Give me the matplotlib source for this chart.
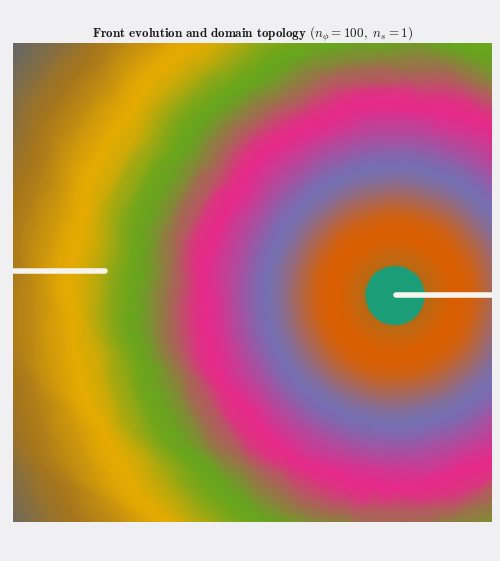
import numpy as np
import matplotlib
matplotlib.use("Agg")
import matplotlib.pyplot as plt
import matplotlib.colors as mcolors
import matplotlib.tri as mtri

plt.rcParams["mathtext.fontset"] = "cm"
plt.rcParams["font.family"] = "serif"

# ─── Domain colours, one per topological level ───────────────────────────────
LEVEL_COLORS = ["#1b9e77", "#d95f02", "#7570b3", "#e7298a",
                "#66a61e", "#e6ab02", "#a6761d", "#666666"]
BG_COLOR = "#f0f0f2"
CRACK_COLOR = "#f5f4ef"

# ─── Level, ring by ring around the right crack tip ──────────────────────────
RING_RADIUS = [0.00, 0.06, 0.12, 0.128, 0.16, 0.20, 0.24, 0.28, 0.33, 0.38,
               0.43, 0.48, 0.535, 0.59, 0.64, 0.69, 0.74, 0.795, 0.85, 0.90,
               0.95, 1.00, 1.05, 1.08, 1.13, 1.18, 1.23, 1.28, 1.35, 1.40,
               1.46, 1.52, 1.57, 1.63, 1.69, 1.75, 1.81, 1.87, 1.93, 2.00]
RING_LEVEL = [1.00, 1.00, 1.00, 1.84, 1.88, 1.95, 2.00, 2.00, 2.10, 2.35,
              2.60, 2.85, 3.00, 3.15, 3.40, 3.60, 3.82, 4.00, 4.10, 4.35,
              4.55, 4.75, 4.93, 5.00, 5.10, 5.30, 5.55, 5.80, 6.00, 6.10,
              6.35, 6.60, 6.80, 7.00, 7.20, 7.45, 7.70, 7.90, 8.00, 8.00]

# Crack centre lines (x, y)
LEFT_CRACK_X = [-1.0, -0.615]
LEFT_CRACK_Y = [0.05, 0.05]
RIGHT_CRACK_X = [0.60, 1.0]
RIGHT_CRACK_Y = [-0.054, -0.054]
TIP = (0.595, -0.054)

TITLE = (r"$\mathbf{Front\ evolution\ and\ domain\ topology}$"
         r" $(n_\phi = 100,\ n_s = 1)$")

# radial wobble of mesh nodes, gives the unstructured facet look
WOBBLE = [0.6, -0.9, 0.2, 1.0, -0.4, -1.0, 0.8, -0.1, 0.5, -0.7, 1.0]


def ring_mesh():
    xs, ys, zs = [], [], []
    for i, (r, lev) in enumerate(zip(RING_RADIUS, RING_LEVEL)):
        if r == 0:
            xs.append(TIP[0]); ys.append(TIP[1]); zs.append(lev)
            continue
        if r < 0.2:
            # keep the disc edge clean
            n = 90
            t = np.arange(n) * 2 * np.pi / n
            rad = np.full(n, r)
        else:
            spacing = 0.04 if r < 0.7 else 0.085
            n = int(2 * np.pi * r / spacing)
            t = (np.arange(n) + 0.5 * (i % 2)) * 2 * np.pi / n
            amp = 0.003 if r < 0.7 else 0.013
            wob = np.array([WOBBLE[(k * 3 + i) % len(WOBBLE)] for k in range(n)])
            rad = r + amp * wob
        xs.extend(TIP[0] + rad * np.cos(t))
        ys.extend(TIP[1] + rad * np.sin(t))
        zs.extend([lev] * n)
    return mtri.Triangulation(xs, ys), np.array(zs)


def main():
    fig = plt.figure(figsize=(5.0, 5.61), dpi=100)
    fig.patch.set_facecolor(BG_COLOR)
    ax = fig.add_axes([13 / 500, 39 / 561, 479 / 500, 479 / 561])

    cmap = mcolors.LinearSegmentedColormap.from_list("levels", LEVEL_COLORS, N=512)
    tri, z = ring_mesh()
    ax.tripcolor(tri, z, shading="gouraud", cmap=cmap, vmin=1, vmax=8)

    ax.plot(LEFT_CRACK_X, LEFT_CRACK_Y, color=CRACK_COLOR, lw=4, solid_capstyle="round")
    ax.plot(RIGHT_CRACK_X, RIGHT_CRACK_Y, color=CRACK_COLOR, lw=4, solid_capstyle="round")

    ax.set_xlim(-1, 1)
    ax.set_ylim(-1, 1)
    ax.set_xticks([])
    ax.set_yticks([])
    for spine in ax.spines.values():
        spine.set_visible(False)

    fig.text(252.5 / 500, 1 - 34 / 561, TITLE, fontsize=9.45, ha="center", va="center", color="#1a1a1a")

    fig.savefig("out.png", dpi=100, facecolor=fig.get_facecolor())


if __name__ == "__main__":
    main()
